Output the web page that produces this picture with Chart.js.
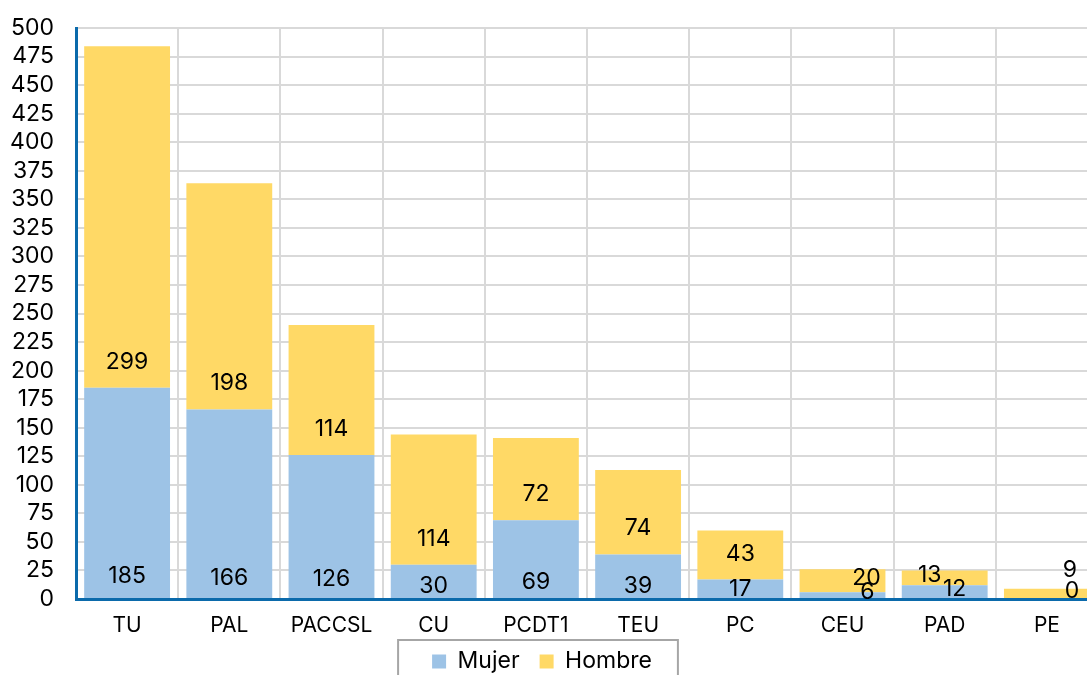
<!DOCTYPE html>
<html><head><meta charset="utf-8">
<script src="https://cdn.jsdelivr.net/npm/chart.js@4/dist/chart.umd.min.js"></script>
<style>
html,body{margin:0;padding:0;background:#fff;overflow:hidden;}
#wrap{position:absolute;left:0;top:0;width:1100px;height:690px;}
</style></head><body>
<div id="wrap"><canvas id="c" width="1100" height="690"></canvas></div>
<script>
const categories = ['TU','PAL','PACCSL','CU','PCDT1','TEU','PC','CEU','PAD','PE'];
const mujer = [185,166,126,30,69,39,17,6,12,0];
const hombre = [299,198,114,114,72,74,43,20,13,9];
const yTicks = {min:0, max:500, step:25};

const FONT = 'Inter, "Noto Sans", sans-serif';

const labelPlugin = {
  id:'baseLabels',
  afterDatasetsDraw(chart, args, opts){
    const ctx = chart.ctx;
    ctx.save();
    ctx.font = '23px ' + FONT;
    ctx.fillStyle = '#000';
    ctx.textAlign = 'center';
    ctx.textBaseline = 'middle';
    chart.data.datasets.forEach((ds, di) => {
      const meta = chart.getDatasetMeta(di);
      const off = opts.baseOffset[di];
      meta.data.forEach((bar, i) => {
        const base = bar.base, top = bar.y;
        const mid = (base + top)/2;
        let ly = Math.max(base - off, mid - 3);
        let lx = bar.x;
        const sh = (opts.shifts[di] || {})[i];
        if (sh) { lx += sh[0]; ly += sh[1]; }
        ctx.fillText(String(ds.data[i]), lx, ly);
      });
    });
    ctx.restore();
  }
};

const legendBox = {
  id:'legendBox',
  beforeDraw(chart, args, opts){
    const lg = chart.legend;
    if(!lg) return;
    const d = lg.top - opts.top;
    lg.top -= d; lg.bottom -= d;
    const dx = opts.dx - (lg._dxApplied || 0);
    lg.left += dx; lg.right += dx; lg._dxApplied = opts.dx;
    (lg.legendHitBoxes || []).forEach(h => { h.top -= d; h.left += dx; });
  },
  afterDraw(chart, args, opts){
    const lg = chart.legend;
    if(!lg || !lg.legendHitBoxes || !lg.legendHitBoxes.length) return;
    const hb = lg.legendHitBoxes;
    const x0 = hb[0].left - 34, x1 = hb[hb.length-1].left + hb[hb.length-1].width + 26;
    const ctx = chart.ctx;
    ctx.save();
    ctx.strokeStyle = '#a6a6a6';
    ctx.lineWidth = 2;
    ctx.strokeRect(x0, opts.boxTop, x1 - x0, 60);
    ctx.restore();
  }
};

new Chart(document.getElementById('c'), {
  type:'bar',
  data:{
    labels: categories,
    datasets:[
      {label:'Mujer', data:mujer, backgroundColor:'#9dc3e6', borderWidth:0},
      {label:'Hombre', data:hombre, backgroundColor:'#ffd966', borderWidth:0}
    ]
  },
  options:{
    responsive:false,
    animation:false,
    devicePixelRatio:1,
    layout:{padding:{top:28,right:2,left:0,bottom:0}},
    datasets:{bar:{categoryPercentage:0.84, barPercentage:1.0}},
    scales:{
      x:{
        stacked:true,
        grid:{color:'#d9d9d9', lineWidth:2, offset:true, drawTicks:false},
        border:{color:'#0b6aab', width:3},
        ticks:{color:'#000', font:{family:FONT, size:21}, padding:14},
        afterFit(s){ s.height = 38; }
      },
      y:{
        stacked:true,
        min:yTicks.min, max:yTicks.max,
        grid:{color:'#d9d9d9', lineWidth:2, drawTicks:false},
        border:{color:'#0b6aab', width:3},
        ticks:{stepSize:yTicks.step, autoSkip:false, color:'#000', font:{family:FONT, size:23}, padding:22},
        afterFit(s){ s.width = 76; s.paddingTop = 0; s.paddingBottom = 0; }
      }
    },
    plugins:{
      legend:{
        position:'bottom',
        labels:{boxWidth:14, boxHeight:14, padding:20, color:'#000', font:{family:FONT, size:23}}
      },
      legendBox:{top:630, boxTop:640, dx:-7},
      tooltip:{enabled:false},
      baseLabels:{
        baseOffset:[20, 26],
        shifts:{
          0:{0:[0,-2],2:[0,1],3:[0,8],4:[0,4],5:[0,8],6:[0,3],7:[25,0],8:[10,0],9:[25,-5]},
          1:{7:[24,0],8:[-15,0],9:[23,-20]}
        }
      }
    }
  },
  plugins:[labelPlugin, legendBox]
});
</script>
</body></html>
